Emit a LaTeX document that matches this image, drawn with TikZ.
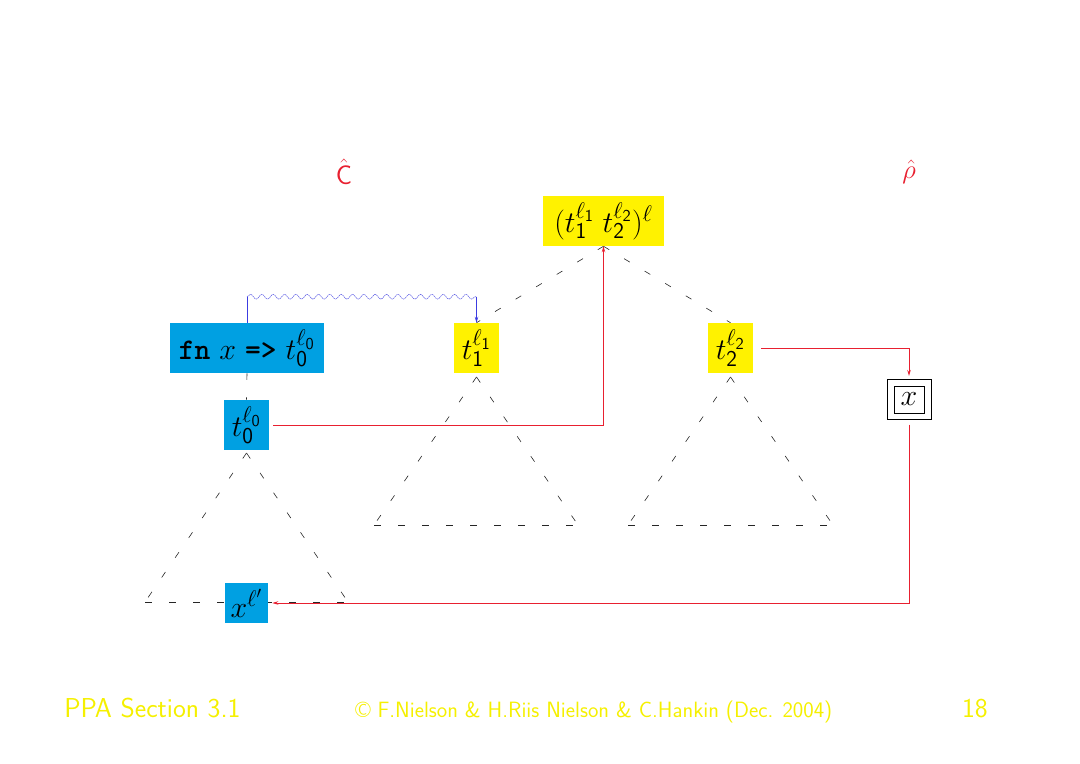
\RequirePackage{fix-cm}
\documentclass[tikz,border=0pt]{standalone}
\usetikzlibrary{decorations.pathmorphing,arrows.meta,backgrounds,calc}
\definecolor{nblue}{RGB}{0,160,226}
\definecolor{nyellow}{RGB}{255,242,0}
\definecolor{cred}{RGB}{232,32,48}
\definecolor{cblue}{RGB}{60,60,225}
\definecolor{wblue}{RGB}{105,105,230}
\definecolor{fyellow}{RGB}{245,240,0}
\DeclareMathSizes{22.5}{22.5}{17}{12.5}
\DeclareMathSizes{20}{20}{15}{11}
\begin{document}
\begin{tikzpicture}[x=0.75pt,y=-0.75pt,
  every node/.style={inner sep=0pt, font=\fontsize{22.5}{27}\selectfont},
  ybox/.style={fill=nyellow, minimum height=37.5pt},
  bbox/.style={fill=nblue, minimum height=37.5pt},
  tdash/.style={line width=0.45pt, black!85, dash pattern=on 5pt off 13pt},
  redc/.style={line width=0.65pt, cred, -{Stealth[length=4.5pt,width=2.6pt]}},
  bluec/.style={line width=0.6pt, cblue},
  wavy/.style={line width=0.45pt, wblue, dash pattern=on 1.2pt off 0.5pt,
    decorate, decoration={snake, amplitude=1.8pt, segment length=8.5pt}},
  foot/.style={text=fyellow, font=\sffamily\fontsize{20.5}{24}\selectfont},
  hatlbl/.style={text=cred, font=\fontsize{20}{24}\selectfont}
]
\useasboundingbox (0,0) rectangle (1080,763);

% labels
\node[hatlbl] (chat) at (344,172) {$\hat{\mathsf{C}}$};
\node[hatlbl] (rhat) at (909,172) {$\hat{\rho}$};

% nodes
\node[ybox, minimum width=90.75pt] (top) at (603.5,221) {$(t_{\mathsf{1}}^{\ell_{\mathsf{1}}}\;t_{\mathsf{2}}^{\ell_{\mathsf{2}}})^{\ell}$};
\node[bbox, minimum width=115.5pt] (fn) at (247,348) {{\ttfamily\bfseries fn} $x$ {\ttfamily\bfseries =>} $t_{\mathsf{0}}^{\ell_{\mathsf{0}}}$};
\node[ybox, minimum width=33.75pt] (t1) at (476.5,348) {$t_{\mathsf{1}}^{\ell_{\mathsf{1}}}$};
\node[ybox, minimum width=33.75pt] (t2) at (730.5,348) {$t_{\mathsf{2}}^{\ell_{\mathsf{2}}}$};
\node[bbox, minimum width=33.75pt] (t0) at (246.5,425) {$t_{\mathsf{0}}^{\ell_{\mathsf{0}}}$};
\node[bbox, minimum width=32.25pt, minimum height=30pt] (xp) at (246.5,603) {$x^{\ell'}$};
\node[draw, line width=0.5pt, minimum width=33pt, minimum height=30pt] (xb) at (909,399) {};
\node[draw, line width=0.5pt, minimum width=22.5pt, minimum height=20.25pt] (xbi) at (909,399.5) {$x$};

% triangle corners
\coordinate (a1) at (476.5,377); \coordinate (l1) at (374,525); \coordinate (r1) at (578,525);
\coordinate (a2) at (730.5,377); \coordinate (l2) at (628,525); \coordinate (r2) at (833,525);
\coordinate (a0) at (246.5,453); \coordinate (l0) at (145,602); \coordinate (r0) at (348,602);

\begin{scope}[on background layer]
  \draw[tdash] (top.south) -- (t1.north);
  \draw[tdash] (top.south) -- (t2.north);
  \draw[tdash] (fn.south) -- (t0.north);
  \foreach \i in {0,1,2}{
    \draw[tdash] (a\i) -- (l\i);
    \draw[tdash] (a\i) -- (r\i);
    \draw[tdash] (l\i) -- (r\i);
  }
\end{scope}

% blue wavy connector
\coordinate (w1) at ($(fn.north)+(0,-26)$);
\coordinate (w2) at (w1 -| t1.north);
\draw[bluec] (fn.north) -- (w1);
\draw[wavy] (w1) -- (w2);
\draw[bluec, -{Stealth[length=4.5pt,width=2.6pt]}] (w2) -- (t1.north);

% red connectors
\draw[redc, shorten <=3pt] (t0.east) -| (top.south);
\draw[redc, shorten <=6pt, shorten >=2pt] (t2.east) -| (xb.north);
\draw[redc, shorten <=4pt, shorten >=3pt] (xb.south) |- (xp.east);

% footer
\node[foot, anchor=base west] (f1) at (64,717) {PPA Section 3.1};
\node[foot, anchor=base west, font=\sffamily\fontsize{16.6}{20}\selectfont] (f2) at (355,717) {\textcopyright\ F.Nielson \& H.Riis Nielson \& C.Hankin (Dec. 2004)};
\node[foot, anchor=base east] (f3) at (988,717) {18};
\end{tikzpicture}
\end{document}
